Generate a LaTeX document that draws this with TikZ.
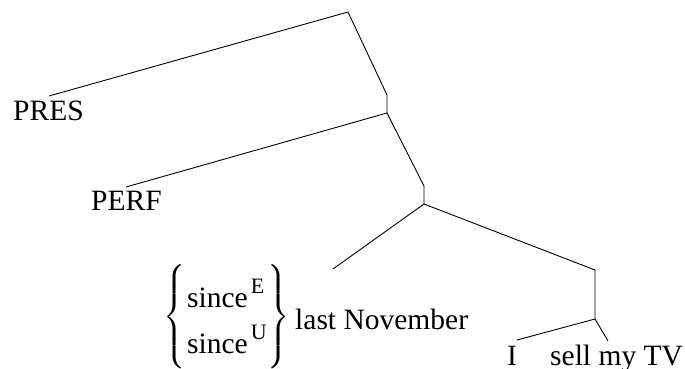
\documentclass[tikz,border=0pt]{standalone}
\usepackage{amsmath}
\usepackage{fontspec}
\setmainfont{Liberation Serif}
\nulldelimiterspace=0pt
\delimitershortfall=0pt
\delimiterfactor=1000
\newcommand\upmark[1]{\kern3pt\raisebox{14pt}{\fontsize{22}{22}\selectfont #1}}
\begin{document}
\begin{tikzpicture}[x=1pt,y=-1pt,
  lbl/.style={inner sep=0pt, anchor=base west, font=\fontsize{29.5}{35}\selectfont},
  brc/.style={inner sep=0pt, font=\fontsize{29.5}{35}\selectfont},
  edge/.style={line width=0.9pt, line join=round}]
\useasboundingbox (0,0) rectangle (685,369);
% tree points
\coordinate (top) at (348,12);
\coordinate (a1) at (387,95);
\coordinate (n1) at (387,113);
\coordinate (a2) at (424,186);
\coordinate (n2) at (424,204);
\coordinate (a3) at (595,270);
\coordinate (n3) at (595,319);
\coordinate (presEnd) at (49,96);
\coordinate (perfEnd) at (126,187);
\coordinate (advEnd) at (333,269);
\coordinate (iEnd) at (517,340);
\coordinate (vpEnd) at (608,341);
% labels
\node[lbl] (pres) at (13,120) {PRES};
\node[lbl] (perf) at (91,210) {PERF};
\node[lbl] (since1) at (187,307) {since\upmark{E}};
\node[lbl] (since2) at (187,353) {since\upmark{U}};
\node[lbl] (lastnov) at (295,329) {last November};
\node[lbl] (subj) at (507,365) {I};
\node[lbl] (vp) at (550,365) {sell my TV};
\node[brc] (lb) at (174.5,316.5) {$\left\{\vrule height 55.875pt depth 41.125pt width 0pt\right.$};
\node[brc] (rb) at (278.5,316.5) {$\left.\vrule height 55.875pt depth 41.125pt width 0pt\right\}$};
% edges
\draw[edge] (presEnd) -- (top) -- (a1) -- (n1);
\draw[edge] (perfEnd) -- (n1) -- (a2) -- (n2);
\draw[edge] (advEnd) -- (n2) -- (a3) -- (n3);
\draw[edge] (iEnd) -- (n3) -- (vpEnd);
\end{tikzpicture}
\end{document}
